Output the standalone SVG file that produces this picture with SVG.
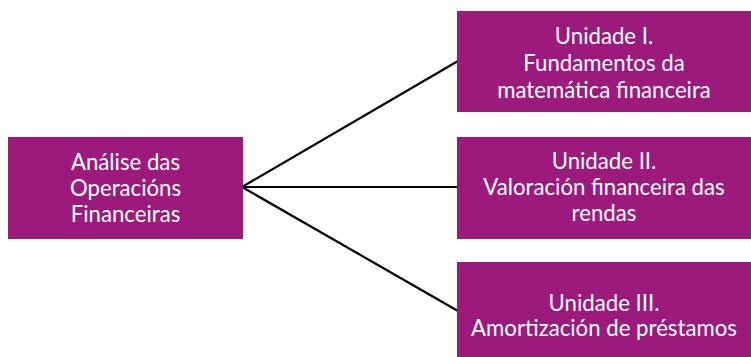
<svg xmlns="http://www.w3.org/2000/svg" width="751" height="357" viewBox="0 0 751 357">
  <style>
    .box { fill: #9b1a7b; }
    .lbl { fill: #ffffff; font-family: Lato, "Open Sans", "Liberation Sans", sans-serif; font-size: 22.2px; text-anchor: middle; }
    .link { stroke: #000000; stroke-width: 2.2; fill: none; }
  </style>
  <rect width="751" height="357" fill="#ffffff"/>
  <g id="connectors">
    <line class="link" x1="242" y1="187" x2="458" y2="61"/>
    <line class="link" x1="242" y1="187" x2="458" y2="187"/>
    <line class="link" x1="242" y1="187" x2="458" y2="311"/>
  </g>
  <g id="root">
    <rect class="box" x="8" y="137" width="235" height="102"/>
    <text class="lbl" x="125.5" y="170">Análise das</text>
    <text class="lbl" x="125.5" y="196">Operacións</text>
    <text class="lbl" x="125.5" y="222">Financeiras</text>
  </g>
  <g id="unit1">
    <rect class="box" x="457" y="11" width="294" height="101"/>
    <text class="lbl" x="604" y="44">Unidade I.</text>
    <text class="lbl" x="604" y="71">Fundamentos da</text>
    <text class="lbl" x="604" y="97.5">matemática financeira</text>
  </g>
  <g id="unit2">
    <rect class="box" x="457" y="137" width="294" height="102"/>
    <text class="lbl" x="604" y="169">Unidade II.</text>
    <text class="lbl" x="604" y="195">Valoración financeira das</text>
    <text class="lbl" x="604" y="221">rendas</text>
  </g>
  <g id="unit3">
    <rect class="box" x="457" y="262" width="294" height="95"/>
    <text class="lbl" x="604" y="310.5">Unidade III.</text>
    <text class="lbl" x="604" y="336">Amortización de préstamos</text>
  </g>
</svg>
